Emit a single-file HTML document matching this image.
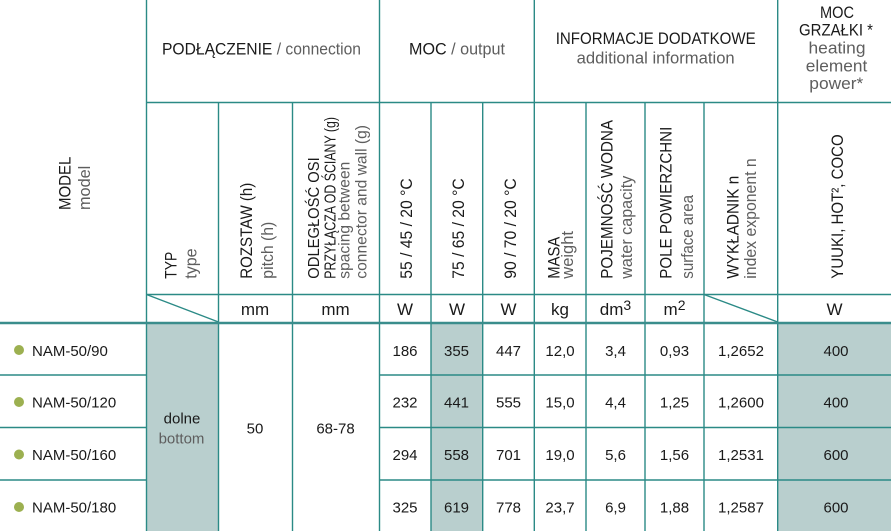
<!DOCTYPE html>
<html><head><meta charset="utf-8"><style>
html,body{margin:0;padding:0;background:#fff;}
svg{display:block;}
text{font-family:"Liberation Sans",Arial,sans-serif;fill:#1a1a1a;}
.g{fill:#5e5e5e;}
</style></head><body>
<svg width="891" height="531" viewBox="0 0 891 531" xmlns="http://www.w3.org/2000/svg">
<rect x="0" y="0" width="891" height="531" fill="#fff"/>
<!-- shaded -->
<rect x="146.5" y="323" width="72" height="208" fill="#b9cfce"/>
<rect x="431" y="323" width="51.7" height="208" fill="#b9cfce"/>
<rect x="777.7" y="323" width="113.3" height="208" fill="#b9cfce"/>
<g stroke="#2b8a86" stroke-width="1.4" fill="none">
<line x1="146.5" y1="0" x2="146.5" y2="531"/>
<line x1="379.5" y1="0" x2="379.5" y2="531"/>
<line x1="534.3" y1="0" x2="534.3" y2="531"/>
<line x1="777.7" y1="0" x2="777.7" y2="531"/>
<line x1="218.5" y1="102.5" x2="218.5" y2="531"/>
<line x1="292.5" y1="102.5" x2="292.5" y2="531"/>
<line x1="431" y1="102.5" x2="431" y2="531"/>
<line x1="482.7" y1="102.5" x2="482.7" y2="531"/>
<line x1="586" y1="102.5" x2="586" y2="531"/>
<line x1="645" y1="102.5" x2="645" y2="531"/>
<line x1="704" y1="102.5" x2="704" y2="531"/>
<line x1="146.5" y1="102.5" x2="891" y2="102.5"/>
<line x1="146.5" y1="294.5" x2="891" y2="294.5"/>
<line x1="146.5" y1="294.5" x2="218.5" y2="322"/>
<line x1="704" y1="294.5" x2="777.7" y2="322"/>
<line x1="0" y1="375" x2="146.5" y2="375"/>
<line x1="379.5" y1="375" x2="891" y2="375"/>
<line x1="0" y1="427.5" x2="146.5" y2="427.5"/>
<line x1="379.5" y1="427.5" x2="891" y2="427.5"/>
<line x1="0" y1="480" x2="146.5" y2="480"/>
<line x1="379.5" y1="480" x2="891" y2="480"/>
</g>
<line x1="0" y1="323" x2="891" y2="323" stroke="#3a8d8c" stroke-width="2.4"/>

<!-- top headers -->
<text x="162" y="54.3" font-size="16.5" textLength="199" lengthAdjust="spacingAndGlyphs">PODŁĄCZENIE<tspan class="g"> / connection</tspan></text>
<text x="409" y="54.3" font-size="16.5" textLength="96" lengthAdjust="spacingAndGlyphs">MOC<tspan class="g"> / output</tspan></text>
<text x="555.7" y="44" font-size="16.5" textLength="200" lengthAdjust="spacingAndGlyphs">INFORMACJE DODATKOWE</text>
<text class="g" x="576.7" y="63.3" font-size="16.5" textLength="158" lengthAdjust="spacingAndGlyphs">additional information</text>
<g font-size="16.5" text-anchor="middle">
<text x="837" y="18" textLength="34" lengthAdjust="spacingAndGlyphs">MOC</text>
<text x="836" y="35.5" textLength="74" lengthAdjust="spacingAndGlyphs">GRZAŁKI *</text>
<text class="g" x="837" y="53.5" textLength="57" lengthAdjust="spacingAndGlyphs">heating</text>
<text class="g" x="836.5" y="71.5" textLength="61.5" lengthAdjust="spacingAndGlyphs">element</text>
<text class="g" x="836.3" y="89" textLength="54" lengthAdjust="spacingAndGlyphs">power*</text>
</g>

<!-- rotated headers -->
<g font-size="16.5">
<text transform="translate(70.7,210) rotate(-90)" textLength="53.3" lengthAdjust="spacingAndGlyphs">MODEL</text>
<text class="g" transform="translate(90,210) rotate(-90)" textLength="44.3" lengthAdjust="spacingAndGlyphs">model</text>
<text transform="translate(176.7,278.7) rotate(-90)" textLength="27" lengthAdjust="spacingAndGlyphs">TYP</text>
<text class="g" transform="translate(196.5,278.7) rotate(-90)" textLength="30.3" lengthAdjust="spacingAndGlyphs">type</text>
<text transform="translate(252,278.7) rotate(-90)" textLength="96" lengthAdjust="spacingAndGlyphs">ROZSTAW (h)</text>
<text class="g" transform="translate(273,278.7) rotate(-90)" textLength="57" lengthAdjust="spacingAndGlyphs">pitch (h)</text>
<text font-size="16" transform="translate(319,278.7) rotate(-90)" textLength="121.4" lengthAdjust="spacingAndGlyphs">ODLEGŁOŚĆ OSI</text>
<text font-size="16" transform="translate(335.5,278.7) rotate(-90)" textLength="161.7" lengthAdjust="spacingAndGlyphs">PRZYŁĄCZA OD ŚCIANY (g)</text>
<text font-size="15.5" class="g" transform="translate(349.5,278.7) rotate(-90)" textLength="117" lengthAdjust="spacingAndGlyphs">spacing between</text>
<text font-size="15.5" class="g" transform="translate(366.3,278.7) rotate(-90)" textLength="153.7" lengthAdjust="spacingAndGlyphs">connector and wall  (g)</text>
<text transform="translate(412,278.7) rotate(-90)" textLength="100.4" lengthAdjust="spacingAndGlyphs">55 / 45 / 20 °C</text>
<text transform="translate(464,278.7) rotate(-90)" textLength="100.4" lengthAdjust="spacingAndGlyphs">75 / 65 / 20 °C</text>
<text transform="translate(516,278.7) rotate(-90)" textLength="100.4" lengthAdjust="spacingAndGlyphs">90 / 70 / 20 °C</text>
<text transform="translate(559.3,278.7) rotate(-90)" textLength="42" lengthAdjust="spacingAndGlyphs">MASA</text>
<text class="g" transform="translate(573,278.7) rotate(-90)" textLength="47.7" lengthAdjust="spacingAndGlyphs">weight</text>
<text transform="translate(612.7,278.7) rotate(-90)" textLength="158.7" lengthAdjust="spacingAndGlyphs">POJEMNOŚĆ WODNA</text>
<text class="g" transform="translate(632,278.7) rotate(-90)" textLength="103" lengthAdjust="spacingAndGlyphs">water capacity</text>
<text transform="translate(671.7,278.7) rotate(-90)" textLength="152" lengthAdjust="spacingAndGlyphs">POLE POWIERZCHNI</text>
<text class="g" transform="translate(693,278.7) rotate(-90)" textLength="83.7" lengthAdjust="spacingAndGlyphs">surface area</text>
<text transform="translate(738.3,278.7) rotate(-90)" textLength="103" lengthAdjust="spacingAndGlyphs">WYKŁADNIK n</text>
<text class="g" transform="translate(756,278.7) rotate(-90)" textLength="120.4" lengthAdjust="spacingAndGlyphs">index exponent n</text>
<text transform="translate(843,278.7) rotate(-90)" textLength="144.4" lengthAdjust="spacingAndGlyphs">YUUKI, HOT², COCO</text>
</g>

<!-- units -->
<g font-size="17" text-anchor="middle">
<text x="255" y="315">mm</text>
<text x="335.5" y="315">mm</text>
<text x="405" y="315">W</text>
<text x="457" y="315">W</text>
<text x="508.5" y="315">W</text>
<text x="560" y="315">kg</text>
<text x="615.5" y="315">dm<tspan font-size="14" dy="-5">3</tspan></text>
<text x="674.5" y="315">m<tspan font-size="14" dy="-5">2</tspan></text>
<text x="834.5" y="315">W</text>
</g>

<!-- bullets -->
<g fill="#9cb050">
<circle cx="19" cy="350" r="5"/>
<circle cx="19" cy="402" r="5"/>
<circle cx="19" cy="454.5" r="5"/>
<circle cx="19" cy="507" r="5"/>
</g>
<g font-size="15">
<text x="32" y="356">NAM-50/90</text>
<text x="32" y="407.3">NAM-50/120</text>
<text x="32" y="460">NAM-50/160</text>
<text x="32" y="512.7">NAM-50/180</text>
</g>
<g font-size="15" text-anchor="middle">
<text x="182" y="423.3">dolne</text>
<text class="g" x="181.5" y="443.3">bottom</text>
<text x="255" y="433.3">50</text>
<text x="335.5" y="433.3">68-78</text>

<text x="405" y="356">186</text>
<text x="456.5" y="356">355</text>
<text x="508.5" y="356">447</text>
<text x="560" y="356">12,0</text>
<text x="615.5" y="356">3,4</text>
<text x="674.5" y="356">0,93</text>
<text x="741" y="356">1,2652</text>
<text x="836" y="356">400</text>

<text x="405" y="407.3">232</text>
<text x="456.5" y="407.3">441</text>
<text x="508.5" y="407.3">555</text>
<text x="560" y="407.3">15,0</text>
<text x="615.5" y="407.3">4,4</text>
<text x="674.5" y="407.3">1,25</text>
<text x="741" y="407.3">1,2600</text>
<text x="836" y="407.3">400</text>

<text x="405" y="460">294</text>
<text x="456.5" y="460">558</text>
<text x="508.5" y="460">701</text>
<text x="560" y="460">19,0</text>
<text x="615.5" y="460">5,6</text>
<text x="674.5" y="460">1,56</text>
<text x="741" y="460">1,2531</text>
<text x="836" y="460">600</text>

<text x="405" y="512.7">325</text>
<text x="456.5" y="512.7">619</text>
<text x="508.5" y="512.7">778</text>
<text x="560" y="512.7">23,7</text>
<text x="615.5" y="512.7">6,9</text>
<text x="674.5" y="512.7">1,88</text>
<text x="741" y="512.7">1,2587</text>
<text x="836" y="512.7">600</text>
</g>
</svg>
</body></html>
